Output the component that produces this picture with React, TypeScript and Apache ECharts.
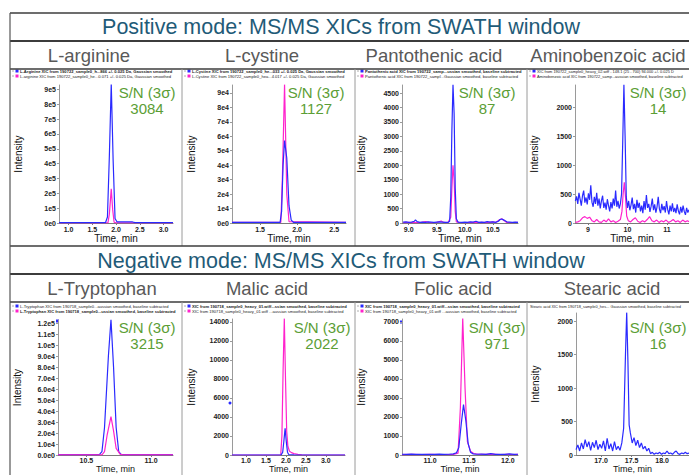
import React, { useEffect, useRef } from "react";
import * as echarts from "echarts";

const W = 689;
const H = 475;
const BLUE = "#2a2aff";
const PINK = "#ff22cc";
const GREEN = "#5b9e35";
const HEADER_COLOR = "#1f5b78";
const NAME_COLOR = "#595959";
const FONT = "'Liberation Sans', Arial, sans-serif";

// ---------- texts ----------
const headerTexts = [
  "Positive mode: MS/MS XICs from SWATH window",
  "Negative mode: MS/MS XICs from SWATH window",
];
const compoundNames = [
  "L-arginine", "L-cystine", "Pantothenic acid", "Aminobenzoic acid",
  "L-Tryptophan", "Malic acid", "Folic acid", "Stearic acid",
];
const snValues = ["3084", "1127", "87", "14", "3215", "2022", "971", "16"];
const legendTexts: string[][] = [
  ["L-Arginine XIC from 190722_sample0_h...866 +/- 0.025 Da, Gaussian smoothed",
   "L-arginine XIC from 190722_sample0_he...0.071 +/- 0.025 Da, Gaussian smoothed"],
  ["L-Cystine XIC from 190722_sample0_he...033 +/- 0.025 Da, Gaussian smoothed",
   "L-Cystine XIC from 190722_sample0_hea...4.017 +/- 0.025 Da, Gaussian smoothed"],
  ["Pantothenic acid XIC from 190722_samp...ussian smoothed, baseline subtracted",
   "Pantothenic acid XIC from 190722_sampl...Gaussian smoothed, baseline subtracted"],
  ["XIC from 190722_sample0_heavy_02.wiff - 148.1 (25 - 700) 94.000 +/- 0.025 D",
   "Aminobenzoic acid XIC from 190722_samp...aussian smoothed, baseline subtracted"],
  ["L-Tryptophan XIC from 190718_sample0...aussian smoothed, baseline subtracted",
   "L-Tryptophan XIC from 190718_sample0...ussian smoothed, baseline subtracted"],
  ["XIC from 190718_sample0_heavy_01.wiff...ssian smoothed, baseline subtracted",
   "XIC from 190718_sample0_heavy_01.wiff ...aussian smoothed, baseline subtracted"],
  ["XIC from 190718_sample0_heavy_01.wiff...ssian smoothed, baseline subtracted",
   "XIC from 190718_sample0_heavy_01.wiff ...aussian smoothed, baseline subtracted"],
  ["Stearic acid XIC from 190718_sample0_hes... Gaussian smoothed, baseline subtracted"],
];
const legendBold: boolean[][] = [
  [true, false], [true, false], [true, false], [false, false],
  [false, true], [true, false], [true, false], [false],
];

// ---------- axis ranges ----------
const xRanges: [number, number][] = [
  [0.8, 3.2], [1.12, 2.66], [8.88, 10.95], [8.67, 11.56],
  [10.28, 11.17], [0.65, 3.48], [10.64, 12.13], [16.59, 18.44],
];
const xSteps = [0.5, 0.5, 0.5, 1, 0.5, 0.5, 0.5, 0.5];
const yMaxes = [930000, 95500, 4780, 2380, 123000, 14310, 7150, 2120];
const ySteps = [100000, 10000, 500, 500, 10000, 2000, 1000, 500];

// ---------- series data [time, intensity] ----------
const arginineBlue: [number, number][] = [
  [0.8, 3000], [1.78, 3000], [1.82, 40000], [1.86, 450000], [1.9, 940000],
  [1.94, 420000], [1.98, 30000], [2.02, 8000], [2.1, 8000], [2.35, 7000],
  [2.4, 3000], [3.2, 3000],
];
const argininePink: [number, number][] = [
  [0.8, 1000], [1.83, 1000], [1.86, 60000], [1.9, 230000], [1.93, 90000],
  [1.96, 5000], [2.0, 1000], [3.2, 1000],
];
const cystineBlue: [number, number][] = [
  [1.12, 500], [1.77, 500], [1.79, 8000], [1.81, 40000], [1.83, 57000],
  [1.86, 45000], [1.89, 12000], [1.92, 2000], [1.95, 500], [2.66, 500],
];
const cystinePink: [number, number][] = [
  [1.12, 500], [1.78, 500], [1.8, 30000], [1.83, 96000], [1.86, 20000],
  [1.89, 1000], [2.66, 500],
];
const pantoBlue: [number, number][] = [
  [8.9, 30], [8.95, 40], [9.0, 20], [9.05, 30], [9.1, 60], [9.12, 110], [9.15, 50],
  [9.2, 20], [9.25, 30], [9.3, 20], [9.35, 40], [9.4, 30], [9.45, 20], [9.5, 30],
  [9.55, 40], [9.6, 30], [9.65, 20], [9.7, 20], [9.73, 60], [9.75, 900],
  [9.77, 3200], [9.79, 4800], [9.81, 3800], [9.83, 1200], [9.85, 150], [9.88, 30],
  [9.95, 20], [10.0, 30], [10.05, 20], [10.1, 40], [10.15, 30], [10.2, 60],
  [10.25, 20], [10.3, 30], [10.35, 20], [10.4, 50], [10.45, 30], [10.5, 40],
  [10.55, 20], [10.6, 60], [10.63, 120], [10.66, 140], [10.7, 100], [10.75, 40],
  [10.8, 30], [10.85, 20], [10.9, 30], [10.95, 20],
];
const pantoPink: [number, number][] = [
  [8.9, 10], [9.0, 20], [9.1, 10], [9.2, 15], [9.3, 50], [9.35, 20], [9.4, 10],
  [9.5, 20], [9.58, 70], [9.62, 20], [9.7, 15], [9.75, 200], [9.77, 1200],
  [9.79, 2000], [9.81, 1500], [9.83, 400], [9.85, 40], [9.9, 20], [10.0, 10],
  [10.1, 20], [10.2, 10], [10.3, 20], [10.4, 10], [10.5, 40], [10.55, 20],
  [10.62, 110], [10.66, 150], [10.7, 90], [10.75, 20], [10.85, 10], [10.95, 20],
];
const aminoBlue: [number, number][] = [
  [8.68, 380], [8.71, 460], [8.74, 330], [8.77, 520], [8.8, 410], [8.83, 300],
  [8.86, 470], [8.89, 560], [8.92, 350], [8.95, 440], [8.98, 320], [9.01, 510],
  [9.04, 400], [9.07, 650], [9.1, 360], [9.13, 280], [9.16, 450], [9.19, 330],
  [9.22, 520], [9.25, 300], [9.28, 420], [9.31, 250], [9.34, 380], [9.37, 470],
  [9.4, 260], [9.43, 350], [9.46, 230], [9.49, 410], [9.52, 300], [9.55, 200],
  [9.58, 360], [9.61, 250], [9.64, 420], [9.67, 300], [9.7, 560], [9.73, 280],
  [9.76, 380], [9.79, 250], [9.82, 330], [9.85, 500], [9.88, 1400], [9.91, 2390],
  [9.94, 1500], [9.97, 450], [10.0, 260], [10.03, 380], [10.06, 220], [10.09, 310],
  [10.12, 440], [10.15, 240], [10.18, 330], [10.21, 180], [10.24, 400], [10.27, 260],
  [10.3, 350], [10.33, 200], [10.36, 300], [10.39, 170], [10.42, 380], [10.45, 230],
  [10.48, 480], [10.51, 260], [10.54, 330], [10.57, 190], [10.6, 290], [10.63, 420],
  [10.66, 220], [10.69, 320], [10.72, 180], [10.75, 280], [10.78, 450], [10.81, 240],
  [10.84, 170], [10.87, 330], [10.9, 220], [10.93, 290], [10.96, 180], [10.99, 380],
  [11.02, 230], [11.05, 150], [11.08, 300], [11.11, 200], [11.14, 340], [11.17, 190],
  [11.2, 260], [11.23, 170], [11.26, 320], [11.29, 210], [11.32, 150], [11.35, 280],
  [11.38, 180], [11.41, 300], [11.44, 200], [11.47, 140], [11.5, 260], [11.53, 180],
  [11.56, 230],
];
const aminoPink: [number, number][] = [
  [8.68, 10], [8.74, 20], [8.8, 40], [8.86, 90], [8.92, 110], [8.98, 80], [9.04, 100],
  [9.1, 40], [9.16, 20], [9.22, 60], [9.28, 20], [9.34, 10], [9.4, 50], [9.46, 20],
  [9.52, 70], [9.58, 20], [9.64, 40], [9.7, 10], [9.76, 30], [9.82, 60], [9.86, 200],
  [9.89, 500], [9.92, 700], [9.95, 450], [9.98, 120], [10.02, 40], [10.08, 20],
  [10.14, 60], [10.2, 90], [10.26, 30], [10.32, 10], [10.38, 40], [10.44, 20],
  [10.5, 60], [10.56, 110], [10.62, 40], [10.68, 20], [10.74, 50], [10.8, 10],
  [10.86, 40], [10.92, 20], [10.98, 50], [11.04, 10], [11.1, 30], [11.16, 60],
  [11.22, 20], [11.28, 40], [11.34, 10], [11.4, 50], [11.46, 20], [11.52, 40], [11.56, 20],
];
const tryptoBlue: [number, number][] = [
  [10.28, 300], [10.6, 300], [10.62, 3000], [10.64, 25000], [10.67, 90000],
  [10.69, 123500], [10.71, 80000], [10.73, 25000], [10.75, 3000], [10.77, 300],
  [11.17, 300],
];
const tryptoPink: [number, number][] = [
  [10.28, 200], [10.62, 200], [10.64, 3000], [10.66, 18000], [10.69, 35000],
  [10.71, 22000], [10.73, 6000], [10.76, 800], [10.78, 200], [11.17, 200],
];
const malicBlue: [number, number][] = [
  [0.65, 0], [1.88, 0], [1.92, 300], [1.95, 1500], [1.98, 2800], [2.01, 1400],
  [2.04, 300], [2.07, 50], [2.2, 20], [3.48, 0],
];
const malicPink: [number, number][] = [
  [0.65, 0], [1.87, 0], [1.9, 2000], [1.93, 9000], [1.96, 14400], [1.99, 8000],
  [2.02, 2500], [2.05, 900], [2.09, 400], [2.14, 250], [2.2, 150], [2.3, 60],
  [2.4, 20], [3.48, 0],
];
const folicBlue: [number, number][] = [
  [10.64, 40], [10.7, 30], [10.76, 50], [10.82, 30], [10.88, 40], [10.94, 30],
  [11.0, 40], [11.06, 30], [11.12, 50], [11.18, 30], [11.24, 40], [11.3, 60],
  [11.34, 120], [11.37, 400], [11.4, 1600], [11.43, 2650], [11.46, 1800],
  [11.49, 600], [11.52, 150], [11.55, 60], [11.6, 40], [11.66, 50], [11.72, 30],
  [11.78, 70], [11.84, 30], [11.9, 40], [11.96, 30], [12.02, 60], [12.08, 30], [12.13, 40],
];
const folicPink: [number, number][] = [
  [10.64, 20], [10.76, 30], [10.9, 20], [11.0, 30], [11.15, 20], [11.3, 30],
  [11.36, 100], [11.39, 2500], [11.42, 7200], [11.45, 3500], [11.48, 700],
  [11.52, 200], [11.56, 80], [11.62, 40], [11.7, 30], [11.8, 50], [11.9, 20],
  [12.0, 40], [12.06, 20], [12.13, 30],
];
const stearicBlue: [number, number][] = [
  [16.59, 80], [16.62, 150], [16.65, 60], [16.68, 180], [16.71, 90], [16.74, 230],
  [16.77, 120], [16.8, 200], [16.83, 70], [16.86, 190], [16.89, 110], [16.92, 220],
  [16.95, 80], [16.98, 160], [17.01, 100], [17.04, 210], [17.07, 60], [17.1, 250],
  [17.13, 90], [17.16, 170], [17.19, 60], [17.22, 200], [17.25, 80], [17.28, 130],
  [17.31, 70], [17.34, 180], [17.37, 400], [17.4, 1500], [17.42, 2130], [17.44, 1400],
  [17.46, 450], [17.48, 330], [17.51, 180], [17.54, 260], [17.57, 140], [17.6, 220],
  [17.63, 110], [17.66, 180], [17.69, 90], [17.72, 130], [17.75, 60], [17.78, 100],
  [17.81, 20], [17.84, 40], [17.87, 10], [17.9, 30], [17.93, 20], [17.96, 40],
  [17.99, 10], [18.02, 30], [18.05, 20], [18.08, 60], [18.11, 20], [18.14, 30],
  [18.17, 10], [18.2, 40], [18.23, 60], [18.26, 20], [18.29, 10], [18.32, 30],
  [18.35, 20], [18.38, 40], [18.41, 20], [18.44, 30],
];

// ---------- layout (pixels) ----------
const panelBoxes = [
  { l: 59, r: 173, t: 85, b: 223 },
  { l: 232, r: 346, t: 85, b: 223 },
  { l: 402, r: 518, t: 85, b: 223 },
  { l: 575, r: 689, t: 85, b: 223 },
  { l: 58, r: 173, t: 320, b: 455 },
  { l: 232, r: 345, t: 319, b: 455 },
  { l: 402, r: 518, t: 319, b: 455 },
  { l: 576, r: 689, t: 313, b: 455 },
];
const colLefts = [10, 182, 355, 527];
const nameX = [89, 262, 434, 608, 102, 267, 453, 612];
const snX = [147, 316, 487, 658, 147, 322, 497, 658];
const legendFont = [4.1, 4.1, 4.1, 3.9, 4.1, 4.1, 4.1, 3.9];
const rowY = [
  { top: 13, headBottom: 41, nameBottom: 69, legend: 71, sn: 92, name: 55, head: 27, panelBottom: 246 },
  { top: 246, headBottom: 274, nameBottom: 302, legend: 306, sn: 327, name: 288, head: 261, panelBottom: 475 },
];

const panelTraces: { data: [number, number][]; color: string }[][] = [
  [{ data: argininePink, color: PINK }, { data: arginineBlue, color: BLUE }],
  [{ data: cystinePink, color: PINK }, { data: cystineBlue, color: BLUE }],
  [{ data: pantoPink, color: PINK }, { data: pantoBlue, color: BLUE }],
  [{ data: aminoPink, color: PINK }, { data: aminoBlue, color: BLUE }],
  [{ data: tryptoBlue, color: BLUE }, { data: tryptoPink, color: PINK }],
  [{ data: malicPink, color: PINK }, { data: malicBlue, color: BLUE }],
  [{ data: folicPink, color: PINK }, { data: folicBlue, color: BLUE }],
  [{ data: stearicBlue, color: BLUE }],
];
const legendColors: (string | null)[][] = [
  [BLUE, PINK], [BLUE, PINK], [BLUE, PINK], [BLUE, PINK],
  [BLUE, PINK], [BLUE, PINK], [BLUE, PINK], [null],
];

const yFormatters: ((v: number) => string)[] = [
  (v) => (v === 0 ? "0e0" : `${Math.round(v / 1e5)}e5`),
  (v) => (v === 0 ? "0e0" : `${Math.round(v / 1e4)}e4`),
  (v) => `${Math.round(v)}`,
  (v) => `${Math.round(v)}`,
  (v) => (v === 0 ? "0.0e0" : v >= 1e5 ? `${(v / 1e5).toFixed(1)}e5` : `${(v / 1e4).toFixed(1)}e4`),
  (v) => `${Math.round(v)}`,
  (v) => `${Math.round(v)}`,
  (v) => `${Math.round(v)}`,
];
const xFormatters: ((v: number) => string)[] = [0, 1, 2, 3, 4, 5, 6, 7].map((i) =>
  i === 3 ? (v: number) => `${Math.round(v)}` : (v: number) => v.toFixed(1)
);

function buildOption() {
  const grids: any[] = [];
  const xAxes: any[] = [];
  const yAxes: any[] = [];
  const series: any[] = [];
  const graphics: any[] = [];

  panelBoxes.forEach((p, i) => {
    const neg = i >= 4;
    grids.push({
      left: p.l, top: p.t, width: p.r - p.l, height: p.b - p.t,
      containLabel: false, outerBoundsMode: "none",
    });
    xAxes.push({
      type: "value", gridIndex: i, min: xRanges[i][0], max: xRanges[i][1],
      minInterval: xSteps[i], maxInterval: xSteps[i], splitNumber: 5,
      splitLine: { show: false },
      axisLine: { show: true, onZero: false, lineStyle: { color: "#7a7a7a", width: 1 } },
      axisTick: { show: true, length: 2, lineStyle: { color: "#7a7a7a" } },
      axisLabel: {
        fontSize: 7, fontWeight: "bold", color: "#222", margin: neg ? 2 : 3, fontFamily: FONT,
        showMinLabel: false, showMaxLabel: false, formatter: xFormatters[i],
      },
      name: "Time, min", nameLocation: "middle", nameGap: neg ? 8 : 10,
      nameTextStyle: { fontSize: neg ? 9 : 10, color: "#111", fontFamily: FONT },
    });
    yAxes.push({
      type: "value", gridIndex: i, min: 0, max: yMaxes[i],
      minInterval: ySteps[i], maxInterval: ySteps[i], splitNumber: 5,
      splitLine: { show: false },
      axisLine: { show: true, onZero: false, lineStyle: { color: "#9a9a9a", width: 1 } },
      axisTick: { show: true, length: 2, lineStyle: { color: "#9a9a9a" } },
      axisLabel: {
        fontSize: 7, fontWeight: "bold", color: "#222", margin: 3, fontFamily: FONT,
        showMinLabel: true, showMaxLabel: false, formatter: yFormatters[i],
      },
      name: "Intensity", nameLocation: "middle", nameGap: 36, nameRotate: 90,
      nameTextStyle: { fontSize: 10, color: "#111", fontFamily: FONT },
    });
    panelTraces[i].forEach((tr) => {
      series.push({
        type: "line", xAxisIndex: i, yAxisIndex: i, data: tr.data,
        showSymbol: false, symbol: "none", clip: true, silent: true,
        lineStyle: { color: tr.color, width: 1.2 },
      });
    });

    // legend lines
    const col = colLefts[i % 4];
    const row = rowY[neg ? 1 : 0];
    legendTexts[i].forEach((t, k) => {
      const y = row.legend + k * 5;
      const c = legendColors[i][k];
      if (c) {
        graphics.push({
          type: "line", shape: { x1: col + 2, y1: y, x2: col + 4, y2: y },
          style: { stroke: "#999", lineWidth: 0.8 },
        });
        graphics.push({
          type: "rect", shape: { x: col + 5.5, y: y - 1.5, width: 3, height: 3 },
          style: { fill: c },
        });
      }
      graphics.push({
        type: "text", x: c ? col + 10 : col + 3, y,
        style: {
          text: t, fontSize: legendFont[i], fontFamily: FONT, fill: "#222",
          fontWeight: legendBold[i][k] ? "bold" : "normal",
          align: "left", verticalAlign: "middle",
        },
      });
    });

    // S/N annotation
    graphics.push({
      type: "text", x: snX[i], y: row.sn,
      style: { text: "S/N (3σ)", fontSize: 15, fontFamily: FONT, fill: GREEN, align: "center", verticalAlign: "middle" },
    });
    graphics.push({
      type: "text", x: snX[i], y: row.sn + 16,
      style: { text: snValues[i], fontSize: 15, fontFamily: FONT, fill: GREEN, align: "center", verticalAlign: "middle" },
    });

    // compound names
    graphics.push({
      type: "text", x: nameX[i], y: row.name,
      style: { text: compoundNames[i], fontSize: 18.5, fontFamily: FONT, fill: NAME_COLOR, align: "center", verticalAlign: "middle" },
    });
  });

  // y-axis marker glyphs
  graphics.push({ type: "rect", shape: { x: 56, y: 319.5, width: 3, height: 3 }, style: { fill: BLUE } });
  graphics.push({ type: "circle", shape: { cx: 230, cy: 403, r: 1.5 }, style: { fill: BLUE } });
  graphics.push({ type: "rect", shape: { x: 400, y: 320.5, width: 3, height: 3 }, style: { fill: BLUE } });

  // table borders & headers
  const dark = "#3c3c3c";
  rowY.forEach((row, r) => {
    graphics.push({ type: "line", shape: { x1: 10, y1: row.top, x2: W, y2: row.top }, style: { stroke: dark, lineWidth: 1.5 } });
    graphics.push({ type: "line", shape: { x1: 10, y1: row.headBottom, x2: W, y2: row.headBottom }, style: { stroke: dark, lineWidth: 2 } });
    graphics.push({ type: "line", shape: { x1: 10, y1: row.nameBottom, x2: W, y2: row.nameBottom }, style: { stroke: dark, lineWidth: 1.5 } });
    colLefts.slice(1).forEach((cx) => {
      graphics.push({ type: "line", shape: { x1: cx, y1: row.nameBottom, x2: cx, y2: row.panelBottom }, style: { stroke: "#9a9a9a", lineWidth: 1 } });
    });
    graphics.push({
      type: "text", x: 341, y: row.head,
      style: { text: headerTexts[r], fontSize: 21.5, fontFamily: FONT, fill: HEADER_COLOR, align: "center", verticalAlign: "middle" },
    });
  });
  graphics.push({ type: "line", shape: { x1: 10, y1: 13, x2: 10, y2: H }, style: { stroke: "#555", lineWidth: 1.2 } });

  return {
    animation: false,
    backgroundColor: "#ffffff",
    grid: grids,
    xAxis: xAxes,
    yAxis: yAxes,
    series,
    graphic: { elements: graphics },
  };
}

export default function App() {
  const ref = useRef<HTMLDivElement>(null);
  useEffect(() => {
    document.body.style.margin = "0";
    document.body.style.overflow = "hidden";
    const chart = echarts.init(ref.current!, null, { renderer: "svg", width: W, height: H });
    chart.setOption(buildOption() as any);
    return () => chart.dispose();
  }, []);
  return (
    <div
      ref={ref}
      style={{ width: W, height: H, position: "absolute", left: 0, top: 0, overflow: "hidden", background: "#fff" }}
    />
  );
}
